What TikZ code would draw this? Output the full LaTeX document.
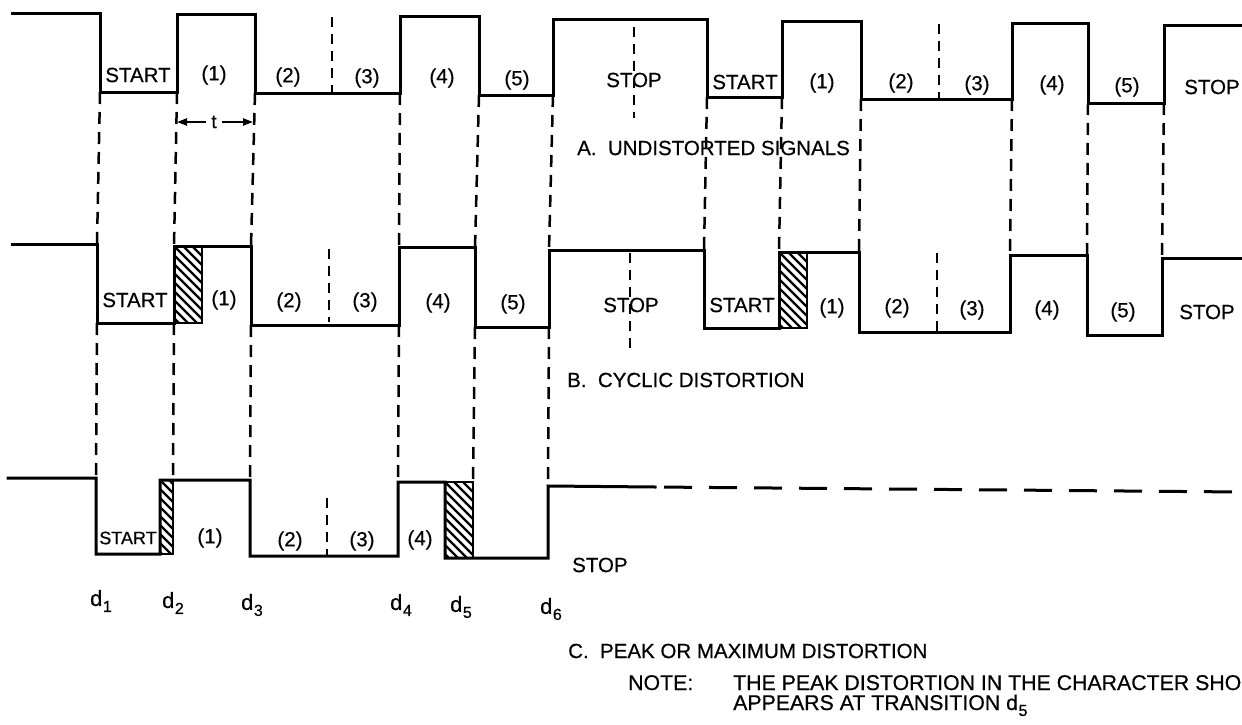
\documentclass[tikz,border=0pt]{standalone}
\usepackage{fontspec}
\setmainfont{Liberation Sans}
\newfontfamily\lblfont{Liberation Sans}[FakeBold=0.5]
\usetikzlibrary{arrows.meta}
\tikzset{
  sig/.style={line width=3pt, line join=miter, line cap=rect},
  guide/.style={line width=2.5pt, dash pattern=on 12pt off 8pt},
  divider/.style={line width=2.5pt, dash pattern=on 10pt off 7pt},
  lbl/.style={font=\lblfont\fontsize{20.5}{22}\selectfont, inner sep=0pt},
  notelbl/.style={font=\lblfont\fontsize{21.3}{22}\selectfont, inner sep=0pt},
  dlbl/.style={font=\lblfont\fontsize{22}{22}\selectfont, inner sep=0pt},
  hatchbox/.style={line width=2.6pt},
  hatchline/.style={line width=2.4pt},
  tarrow/.style={line width=2.2pt, -{Triangle[length=10pt,width=7pt]}},
}
\newcommand{\hatchrect}[4]{%
  \begin{scope}
    \clip (#1,#2) rectangle (#3,#4);
    \foreach \k in {-99,-90,...,45} \draw[hatchline] ({#1+(\k)},#2) -- ++(130,130);
  \end{scope}
  \draw[hatchbox] (#1,#2) rectangle (#3,#4);}
\newcommand{\dsub}[1]{d\kern0.5pt\raisebox{-6pt}{\fontsize{16}{16}\selectfont #1}}
\begin{document}
\begin{tikzpicture}[x=1pt,y=-1pt]
\useasboundingbox (0,0) rectangle (1242,725);
\fill[white] (0,0) rectangle (1242,725);

% ---------------- Row A ----------------
\draw[sig] (12,14) -| (100,92) -| (177,15) -| (255,93) -| (400,17) -| (479,95)
  -| (553,20) -| (707,97) -| (782,22) -| (861,99) -| (1012,24) -| (1088,103)
  -| (1164,26) -- (1242,26);
\draw[divider] (332,17) -- (332,92);
\draw[divider] (634,27) -- (634,118);
\draw[divider] (939,24) -- (939,99);

\node[lbl] (a0) at (138,75) {START};
\node[lbl] (a1) at (214,75) {(1)};
\node[lbl] (a2) at (288,77) {(2)};
\node[lbl] (a3) at (367,78) {(3)};
\node[lbl] (a4) at (442,78) {(4)};
\node[lbl] (a5) at (517,80) {(5)};
\node[lbl] (a6) at (634,80) {STOP};
\node[lbl] (a7) at (745,82) {START};
\node[lbl] (a8) at (822,83) {(1)};
\node[lbl] (a9) at (901,83) {(2)};
\node[lbl] (a10) at (977,85) {(3)};
\node[lbl] (a11) at (1052,85) {(4)};
\node[lbl] (a12) at (1127,87) {(5)};
\node[lbl] (a13) at (1212,87) {STOP};
\node[lbl, anchor=west] (atitle) at (577,148) {A.\ \ UNDISTORTED SIGNALS};

% t arrow
\node[font=\lblfont\fontsize{19}{19}\selectfont, inner sep=0pt] (t) at (214,122) {t};
\coordinate (tl) at (177,122);
\coordinate (tr) at (253,122);
\draw[tarrow] ([xshift=-5pt]t.west) -- (tl);
\draw[tarrow] ([xshift=5pt]t.east) -- (tr);

% guides A -> B
\foreach \xa/\ya/\xb/\yb in {100/92/97/244, 177/92/174/246, 255/93/251/246,
   400/93/399/247, 479/95/475/248, 553/95/549/250, 707/97/704/250,
   782/97/779/250, 861/99/859/253, 1012/99/1010/255, 1088/103/1087/255,
   1164/103/1162/258}
  \draw[guide] (\xa,\ya) -- (\xb,\yb);

% ---------------- Row B ----------------
\draw[sig] (12,244) -| (97,323) -| (174,246) -| (251,325) -| (399,247) -| (475,327)
  -| (549,250) -| (704,328) -| (779,252) -| (859,332) -| (1010,255) -| (1087,335)
  -| (1162,258) -- (1242,258);
\hatchrect{174}{246}{202}{323}
\hatchrect{779}{252}{807}{328}
\draw[divider] (329,249) -- (329,322);
\draw[divider] (630,253) -- (630,350);
\draw[divider] (937,253) -- (937,332);

\node[lbl] (b0) at (135,300) {START};
\node[lbl] (b1) at (224,300) {(1)};
\node[lbl] (b2) at (289,302) {(2)};
\node[lbl] (b3) at (365,302) {(3)};
\node[lbl] (b4) at (438,303) {(4)};
\node[lbl] (b5) at (513,304) {(5)};
\node[lbl] (b6) at (631,305) {STOP};
\node[lbl] (b7) at (742,305) {START};
\node[lbl] (b8) at (832,308) {(1)};
\node[lbl] (b9) at (897,308) {(2)};
\node[lbl] (b10) at (972,310) {(3)};
\node[lbl] (b11) at (1047,310) {(4)};
\node[lbl] (b12) at (1123,312) {(5)};
\node[lbl] (b13) at (1207,312) {STOP};
\node[lbl, anchor=west] (btitle) at (567,380) {B.\ \ CYCLIC DISTORTION};

% guides B -> C
\foreach \xa/\ya/\xb/\yb in {97/323/96/478, 174/323/173/480, 251/325/250/481,
   399/325/398/482, 475/327/473/482, 549/327/548/486}
  \draw[guide] (\xa,\ya) -- (\xb,\yb);

% ---------------- Row C ----------------
\draw[sig] (8,478) -| (96,554) -| (160,480) -| (250,556) -| (398,482) -| (445,558)
  -| (548,486) -- (655,487);
\draw[line width=3pt, dash pattern=on 28pt off 17pt, dash phase=-9pt] (655,487) -- (1242,492);
\hatchrect{160}{480}{173}{554}
\hatchrect{445}{482}{473}{558}
\draw[divider] (327,498) -- (327,555);

\node[lbl, font=\lblfont\fontsize{18}{20}\selectfont] (c0) at (128,538) {START};
\node[lbl] (c1) at (210,538) {(1)};
\node[lbl] (c2) at (290,541) {(2)};
\node[lbl] (c3) at (362,541) {(3)};
\node[lbl] (c4) at (420,540) {(4)};
\node[lbl, anchor=west] (c6) at (572,565) {STOP};

\node[dlbl] (d1) at (101,601) {\dsub{1}};
\node[dlbl] (d2) at (173,603) {\dsub{2}};
\node[dlbl] (d3) at (252,605) {\dsub{3}};
\node[dlbl] (d4) at (401,605) {\dsub{4}};
\node[dlbl] (d5) at (461,607) {\dsub{5}};
\node[dlbl] (d6) at (551,609) {\dsub{6}};

\node[lbl, anchor=west] (ctitle) at (568,651) {C.\ \ PEAK OR MAXIMUM DISTORTION};

\node[notelbl, anchor=base west] (note) at (628,690) {NOTE:};
\node[notelbl, anchor=base west] (note1) at (733,690) {THE PEAK DISTORTION IN THE CHARACTER SHO};
\node[notelbl, anchor=base west] (note2) at (733,710) {APPEARS AT TRANSITION \dsub{5}};
\end{tikzpicture}
\end{document}
